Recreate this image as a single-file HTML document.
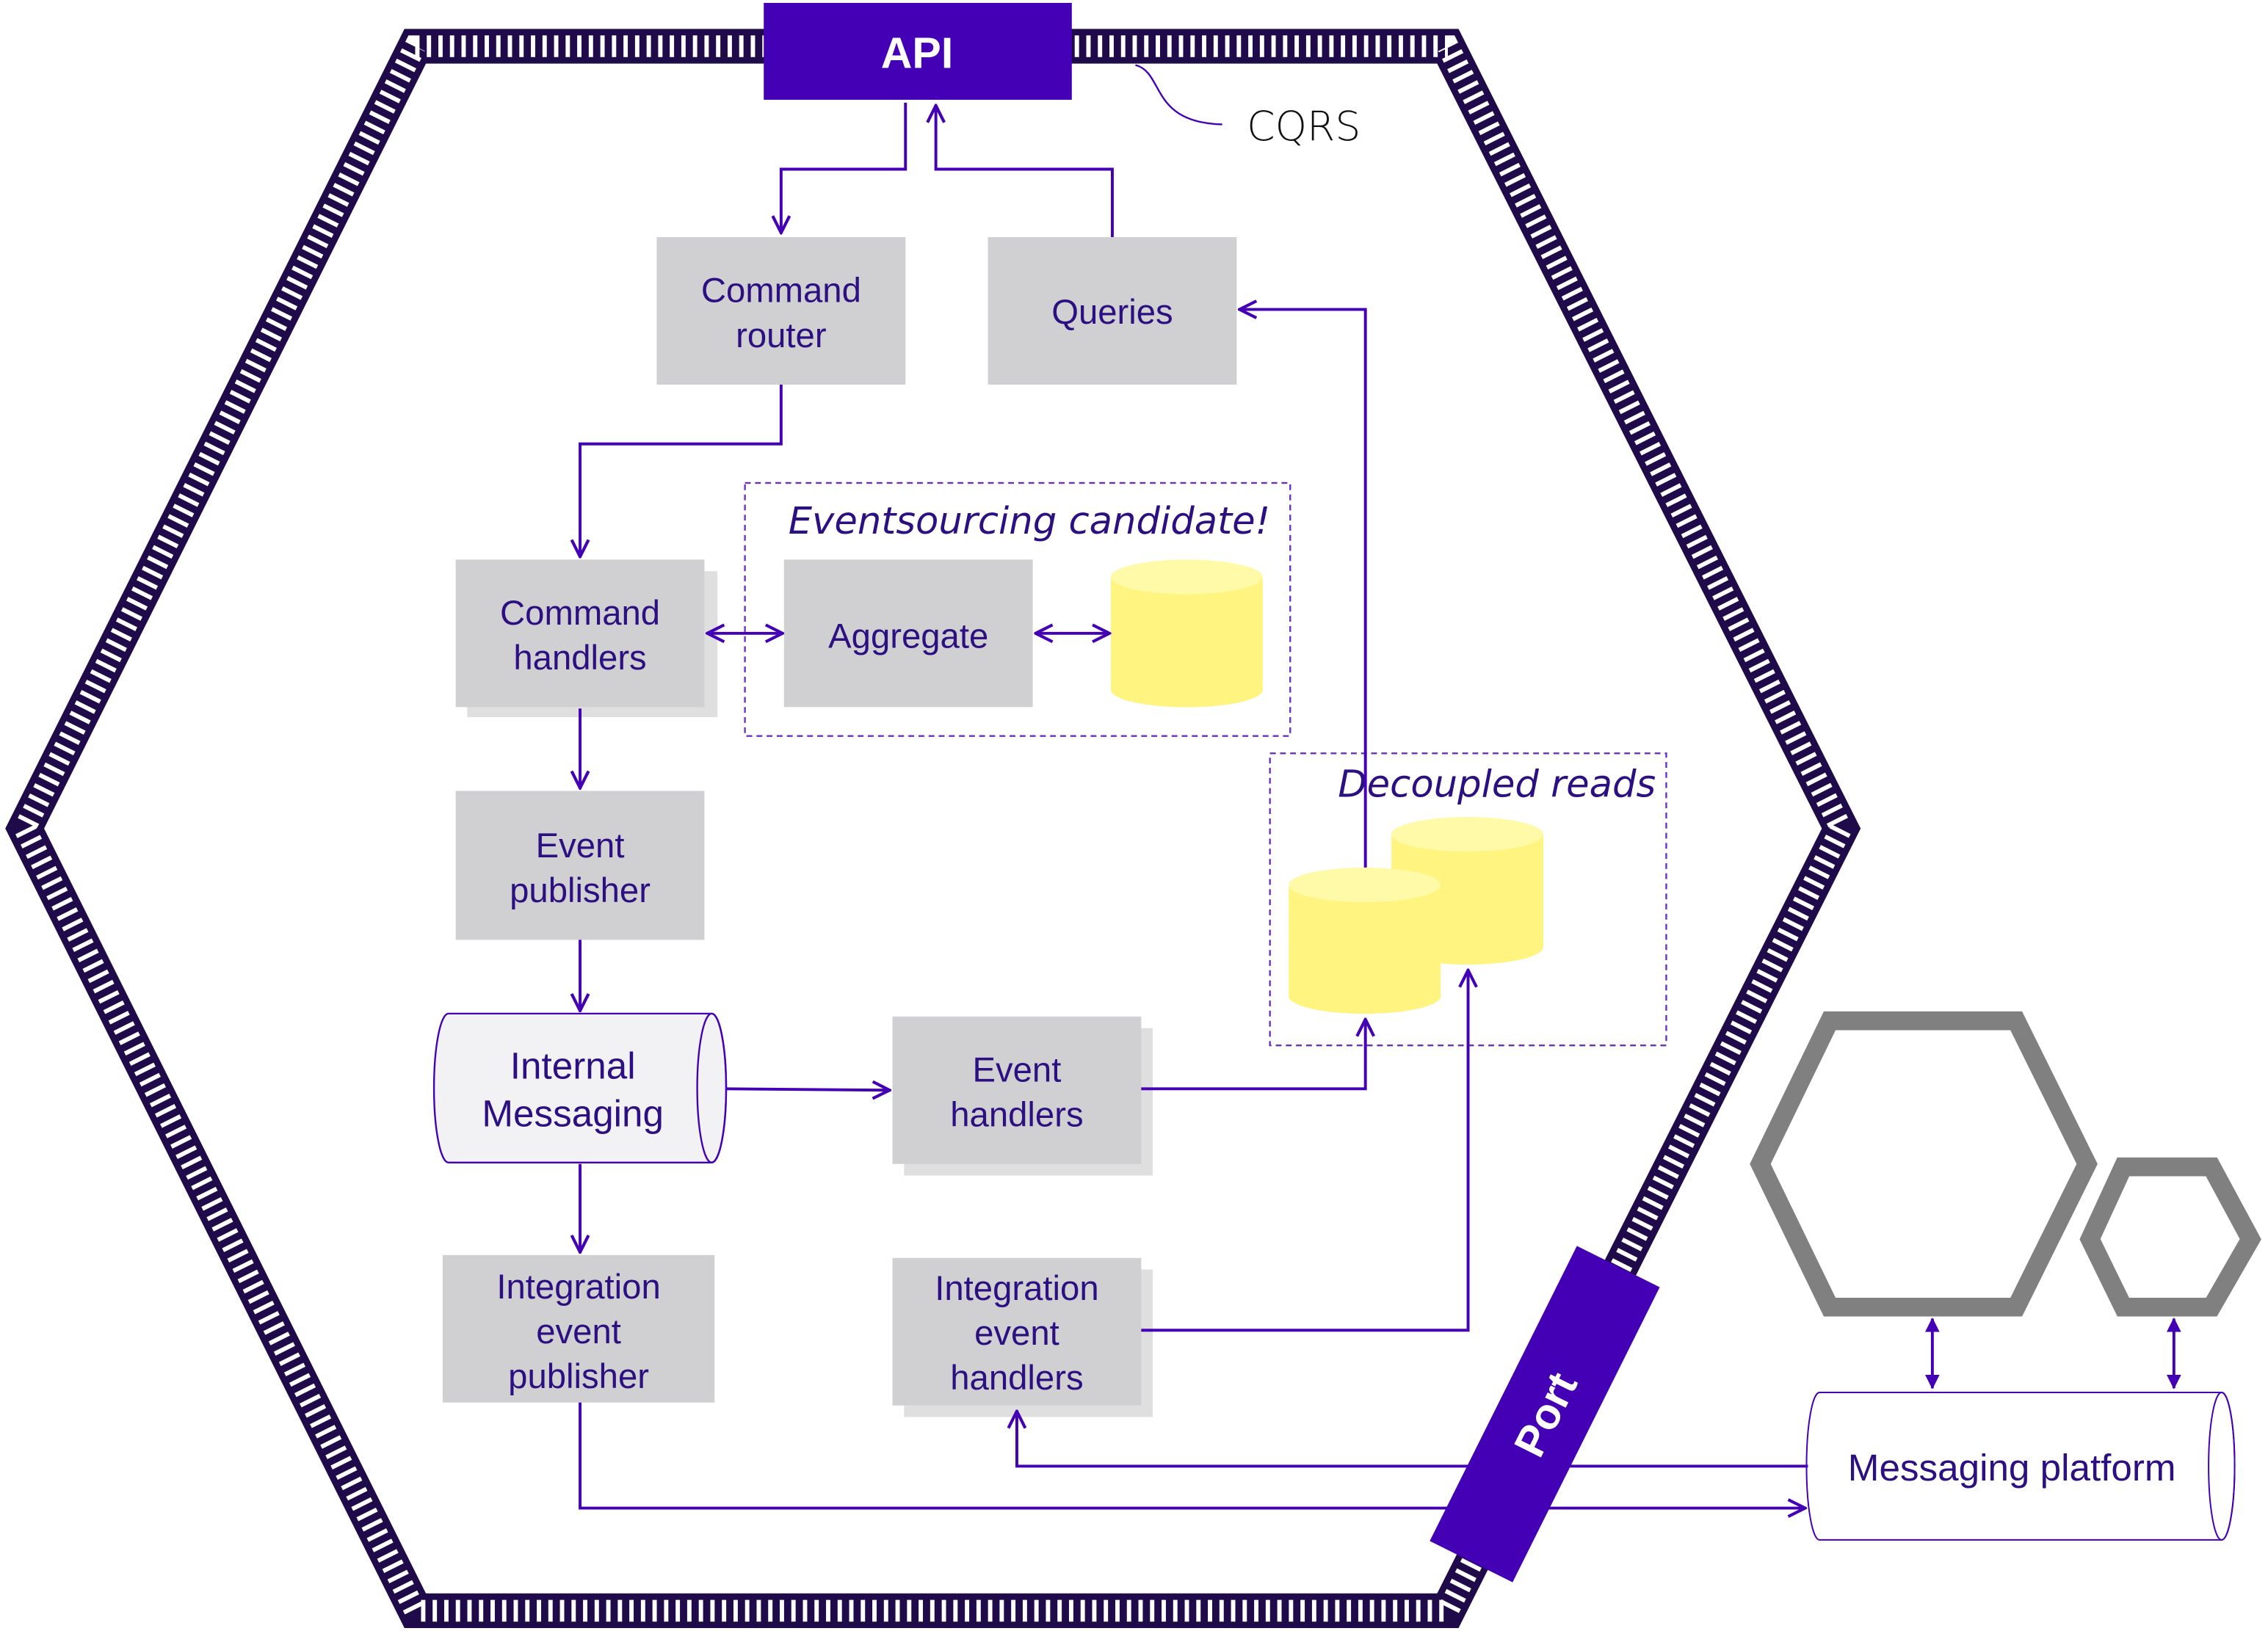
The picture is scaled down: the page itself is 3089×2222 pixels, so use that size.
<!DOCTYPE html>
<html><head><meta charset="utf-8"><style>html,body{margin:0;padding:0;background:#fff}svg{display:block}</style></head>
<body>
<svg width="3089" height="2222" viewBox="0 0 1568 1128" xmlns="http://www.w3.org/2000/svg" font-family="Liberation Sans, sans-serif">
<defs>
<marker id="ao" viewBox="0 0 12 12" refX="11" refY="6" markerWidth="14" markerHeight="14" markerUnits="userSpaceOnUse" orient="auto-start-reverse"><path d="M1,1 L11,6 L1,11" fill="none" stroke="#4400b4" stroke-width="1.8"/></marker>
<marker id="af" viewBox="0 0 12 12" refX="11" refY="6" markerWidth="10" markerHeight="10" markerUnits="userSpaceOnUse" orient="auto-start-reverse"><path d="M0,0 L12,6 L0,12 Z" fill="#4400b4"/></marker>
</defs>
<rect width="1568" height="1128" fill="#fff"/>
<polygon points="287,32 1001,32 1273,573 1001,1114 287,1114 17,573" fill="none" stroke="#1f0a4a" stroke-width="24" stroke-linejoin="miter"/>
<polygon points="287,32 1001,32 1273,573 1001,1114 287,1114 17,573" fill="none" stroke="#fff" stroke-width="15" stroke-dasharray="3 5"/>
<rect x="528" y="2" width="213" height="67" fill="#4400b4"/>
<text x="634" y="47" font-size="30" font-weight="bold" fill="#fff" text-anchor="middle">API</text>
<path d="M785,45 C805,50 795,85 845,86" fill="none" stroke="#4400b4" stroke-width="1.2"/>
<text x="862" y="97" font-size="28" fill="#111" font-family="DejaVu Sans, sans-serif" font-weight="300">CQRS</text>
<rect x="515" y="334" width="377" height="175" fill="none" stroke="#6a30c0" stroke-width="1.2" stroke-dasharray="4 3"/>
<rect x="878" y="521" width="274" height="202" fill="none" stroke="#6a30c0" stroke-width="1.2" stroke-dasharray="4 3"/>
<text x="545" y="369" font-size="26" fill="#2c0f80" font-family="DejaVu Sans, sans-serif" font-style="italic">Eventsourcing candidate!</text>
<text x="925" y="551" font-size="26" fill="#2c0f80" font-family="DejaVu Sans, sans-serif" font-style="italic">Decoupled reads</text>
<g fill="#d0cfd1">
<rect x="454" y="164" width="172" height="102"/>
<rect x="683" y="164" width="172" height="102"/>
<rect x="323" y="395" width="173" height="101" fill="#e0dfe0"/>
<rect x="315" y="387" width="172" height="102"/>
<rect x="542" y="387" width="172" height="102"/>
<rect x="315" y="547" width="172" height="103"/>
<rect x="625" y="711" width="172" height="102" fill="#e0dfe0"/>
<rect x="617" y="703" width="172" height="102"/>
<rect x="306" y="868" width="188" height="102"/>
<rect x="625" y="878" width="172" height="102" fill="#e0dfe0"/>
<rect x="617" y="870" width="172" height="102"/>
</g>
<path d="M310,701 H492 A10,51.5 0 0 1 492,804 H310 A10,51.5 0 0 1 310,701 Z" fill="#f2f1f3" stroke="#4400b4" stroke-width="1.2"/>
<ellipse cx="492" cy="752.5" rx="10" ry="51.5" fill="none" stroke="#4400b4" stroke-width="1.2"/>
<g font-size="24" fill="#2c0f80" text-anchor="middle">
<text x="540" y="209">Command</text><text x="540" y="240">router</text>
<text x="769" y="224">Queries</text>
<text x="401" y="432">Command</text><text x="401" y="463">handlers</text>
<text x="628" y="448">Aggregate</text>
<text x="401" y="593">Event</text><text x="401" y="624">publisher</text>
<text x="396" y="746" font-size="26">Internal</text><text x="396" y="779" font-size="26">Messaging</text>
<text x="703" y="748">Event</text><text x="703" y="779">handlers</text>
<text x="400" y="898">Integration</text><text x="400" y="929">event</text><text x="400" y="960">publisher</text>
<text x="703" y="899">Integration</text><text x="703" y="930">event</text><text x="703" y="961">handlers</text>
</g>
<g>
<path d="M768,399 V477 A52,12 0 0 0 873,477 V399 Z" fill="#fff47f"/>
<ellipse cx="820.5" cy="399" rx="52.5" ry="12" fill="#fffaa8"/>
<path d="M962,577 V655 A52,12 0 0 0 1067,655 V577 Z" fill="#fff47f"/>
<ellipse cx="1014.5" cy="577" rx="52.5" ry="12" fill="#fffaa8"/>
<path d="M891,612 V689 A52,12 0 0 0 996,689 V612 Z" fill="#fff47f"/>
<ellipse cx="943.5" cy="612" rx="52.5" ry="12" fill="#fffaa8"/>
</g>
<path d="M1258,963 H1536 A9,51 0 0 1 1536,1065 H1258 A9,51 0 0 1 1258,963 Z" fill="#fff" stroke="#4400b4" stroke-width="1"/>
<ellipse cx="1536" cy="1014" rx="9" ry="51" fill="none" stroke="#4400b4" stroke-width="1"/>
<text x="1391" y="1024" font-size="26" fill="#2c0f80" text-anchor="middle">Messaging platform</text>
<polygon points="1265,706 1394,706 1443,805 1394,904 1265,904 1217,805" fill="none" stroke="#808080" stroke-width="13"/>
<polygon points="1468,807 1529,807 1556,857 1529,904 1468,904 1445,857" fill="none" stroke="#808080" stroke-width="13"/>
<line x1="1336" y1="912" x2="1336" y2="960" stroke="#4400b4" stroke-width="2" marker-start="url(#af)" marker-end="url(#af)"/>
<line x1="1503" y1="912" x2="1503" y2="960" stroke="#4400b4" stroke-width="2" marker-start="url(#af)" marker-end="url(#af)"/>
<g fill="none" stroke="#4400b4" stroke-width="2">
<path d="M626,71 V117 H540 V161" marker-end="url(#ao)"/>
<path d="M769,164 V117 H647 V73" marker-end="url(#ao)"/>
<path d="M540,266 V307 H401 V385" marker-end="url(#ao)"/>
<path d="M489,438 H541" marker-start="url(#ao)" marker-end="url(#ao)"/>
<path d="M716,438 H767" marker-start="url(#ao)" marker-end="url(#ao)"/>
<path d="M401,490 V545" marker-end="url(#ao)"/>
<path d="M401,650 V699" marker-end="url(#ao)"/>
<path d="M502,753 L615,754" marker-end="url(#ao)"/>
<path d="M401,805 V866" marker-end="url(#ao)"/>
<path d="M789,753 H944 V705" marker-end="url(#ao)"/>
<path d="M944,600 V214 H857" marker-end="url(#ao)"/>
<path d="M789,920 H1015 V671" marker-end="url(#ao)"/>
<path d="M401,970 V1043 H1248" marker-end="url(#ao)"/>
<path d="M1250,1014 H703 V976" marker-end="url(#ao)"/>
</g>
<g transform="translate(1068,978) rotate(-63.5)">
<rect x="-114" y="-32" width="228" height="64" fill="#4400b4"/>
<text x="0" y="11" font-size="30" font-weight="bold" fill="#fff" text-anchor="middle">Port</text>
</g>
</svg>
</body></html>
